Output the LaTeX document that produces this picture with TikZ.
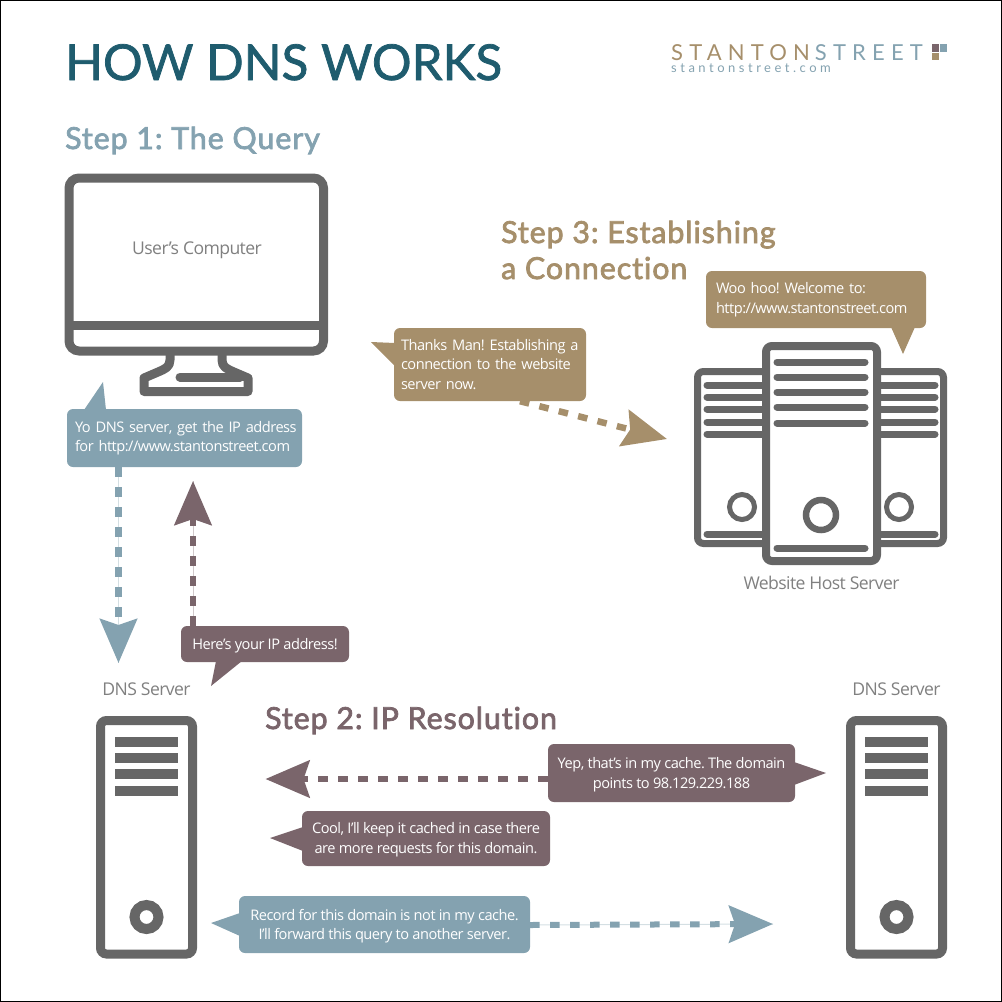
\documentclass[tikz,border=0pt]{standalone}
\usepackage{fontspec}
\setmainfont[LetterSpace=-3.4]{Open Sans}
\newfontfamily\headfont[Ligatures=NoCommon]{Lato}
\usetikzlibrary{arrows.meta}
\definecolor{teal}{HTML}{1F5C6E}
\definecolor{steel}{HTML}{84A2B0}
\definecolor{sand}{HTML}{A68F6B}
\definecolor{plum}{HTML}{7A656B}
\definecolor{ink}{HTML}{666666}
\definecolor{label}{HTML}{808080}
\tikzstyle{heading}=[anchor=base west, inner sep=0pt, font=\headfont\fontsize{30.3}{36}\selectfont\addfontfeature{FakeBold=2.5,LetterSpace=3.2}]
\tikzstyle{logotext}=[anchor=base west, inner sep=0pt]
\tikzstyle{bubble}=[rounded corners=6pt, inner sep=0pt, text=white, font=\fontsize{14.6}{19.5}\selectfont]
\tikzstyle{caption}=[inner sep=0pt, text=label, font=\fontsize{17.6}{19}\selectfont]
\tikzstyle{flow}=[line width=6.5pt, dash pattern=on 9.5pt off 10.5pt]
\tikzstyle{hair}=[line width=1pt, opacity=.35]
\tikzstyle{head}=[-{Stealth[length=44pt, width=37pt, inset=6pt]}]
\tikzstyle{case}=[draw=ink, fill=white, line width=9pt, rounded corners=6pt]
\tikzstyle{bar}=[draw=ink, line width=7pt, line cap=round]

\begin{document}
\frenchspacing
\begin{tikzpicture}[x=1pt, y=-1pt]
  \useasboundingbox (0,0) rectangle (1002,1002);
  \draw[black, line width=1pt] (.5,.5) rectangle (1001.5,1001.5);

  % titles
  \node[heading, teal, font=\headfont\fontsize{49.5}{56}\selectfont\addfontfeature{FakeBold=1.5}] (title) at (65,80) {HOW DNS WORKS};
  \node[heading, steel] (stepquery) at (65,149) {Step 1: The Query};
  \node[heading, sand] (stepconn) at (501,243) {Step 3: Establishing};
  \node[heading, sand] (stepconnb) at (501,279) {a Connection};
  \node[heading, plum] (stepip) at (265,729) {Step 2: IP Resolution};

  % logo
  \node[logotext, font=\headfont\fontsize{22}{24}\selectfont\addfontfeature{LetterSpace=28}] (logoname) at (671,60) {\textcolor{sand}{STANTON}\kern5pt\textcolor{steel}{STREET}};
  \node[logotext, steel, font=\headfont\fontsize{13}{15}\selectfont\addfontfeature{LetterSpace=27}] (logourl) at (671,72) {stantonstreet.com};
  \fill[plum] (932,44) rectangle (938.5,52);
  \fill[steel] (940,44) rectangle (947,52);
  \fill[sand] (932,53) rectangle (938.5,60);

  % computer
  \draw[case, rounded corners=10pt] (69,178) rectangle (323.5,351);
  \draw[ink, line width=9pt] (69,325) -- (323.5,325);
  \draw[ink, line width=9pt, line join=round] (170,352) -- (170,360) .. controls (170,367) and (165,369) .. (158,372) -- (144,378) -- (144,391.5) -- (248,391.5) -- (248,378) -- (234,372) .. controls (227,369) and (222,367) .. (222,360) -- (222,352);
  \draw[ink, line width=9pt, line cap=round] (180,377) -- (240,377);
  \node[caption] (usercomp) at (197,250) {User’s Computer};

  % host servers
  \draw[case, line width=7pt] (697.5,371.5) rectangle (943.5,543.5);
  \foreach \y in {385,397,409,422,434,534}
    \draw[bar] (707,\y) -- (935,\y);
  \foreach \x in {742,899}
    \draw[ink, line width=5pt] (\x,507) circle (12.5);
  \draw[case, line width=8pt] (766,346) rectangle (877,561);
  \foreach \y in {362,377,392,407,423,548}
    \draw[bar] (777,\y) -- (865,\y);
  \draw[ink, line width=6.5pt] (821,515) circle (15);
  \node[caption] (hostlabel) at (821.5,582.5) {Website Host Server};

  % dns servers
  \foreach \x/\n in {100.5/left, 850.5/right} {
    \draw[case] (\x,720.5) rectangle (\x+92,954);
    \foreach \y in {742,758,774,791}
      \fill[ink] (\x+14.5,\y-5) rectangle (\x+77,\y+5);
    \draw[ink, line width=10pt] (\x+46,917) circle (12);
    \node[caption] (dns\n) at (\x+46,689.5) {DNS Server};
  }

  % speech bubbles
  \fill[steel] (84,410) -- (103,382) -- (106,410) -- cycle;
  \node[bubble, fill=steel, minimum width=235pt, minimum height=58pt, text width=219pt, align=left] (askdns) at (184.5,438) {\mbox{Yo DNS server, get the IP address}\\\mbox{for http://www.stantonstreet.com}};

  \fill[plum] (216,661) -- (211,686) -- (242,661) -- cycle;
  \node[bubble, fill=plum, minimum width=168pt, minimum height=36pt, align=center, text depth=0pt] (ipreply) at (265,644) {Here’s your IP address!};

  \fill[sand] (395,343) -- (371,342) -- (395,366) -- cycle;
  \node[bubble, fill=sand, minimum width=192pt, minimum height=73pt, text width=178pt, align=left] (thanks) at (490,364.5) {\mbox{Thanks Man! Establishing a}\\connection to the website\\server now.};

  \fill[sand] (891,327) -- (903,354) -- (915,327) -- cycle;
  \node[bubble, fill=sand, minimum width=220pt, minimum height=57pt, text width=200pt, align=left] (welcome) at (816,299.5) {Woo hoo! Welcome to:\\\mbox{http://www.stantonstreet.com}};

  \fill[plum] (794,762) -- (826,773) -- (794,785) -- cycle;
  \node[bubble, fill=plum, minimum width=247pt, minimum height=58pt, align=center, text depth=0pt] (yep) at (671.5,773) {Yep, that’s in my cache. The domain\\points to 98.129.229.188};

  \fill[plum] (303,827) -- (270,838) -- (303,851) -- cycle;
  \node[bubble, fill=plum, minimum width=248pt, minimum height=55pt, align=center, text depth=1.5pt] (cool) at (426,838.5) {Cool, I’ll keep it cached in case there\\are more requests for this domain.};

  \fill[steel] (240,913) -- (211,923) -- (240,936) -- cycle;
  \node[bubble, fill=steel, minimum width=291pt, minimum height=57pt, align=center, text depth=0pt] (record) at (384.5,924.5) {Record for this domain is not in my cache.\\I’ll forward this query to another server.};

  % connectors
  \coordinate (querytip) at (118.5,663);
  \coordinate (replytip) at (193,481);
  \coordinate (hosttip) at (667,439);
  \coordinate (cachetip) at (265.5,779);
  \coordinate (forwardtip) at (773,924);

  \draw[hair, steel] ([xshift=-66pt]askdns.south) -- (querytip);
  \draw[flow, head, steel] ([xshift=-66pt]askdns.south) -- (querytip);
  \draw[hair, plum] ([xshift=-72pt]ipreply.north) -- (replytip);
  \draw[flow, head, plum] ([xshift=-72pt]ipreply.north) -- (replytip);
  \draw[flow, head, sand] ([xshift=30pt]thanks.south) -- (hosttip);
  \draw[flow, head, plum] ([yshift=-6pt]yep.west) -- (cachetip);
  \draw[hair, steel] ([yshift=-.5pt]record.east) -- (forwardtip);
  \draw[flow, head, steel, line width=6pt] ([yshift=-.5pt]record.east) -- (forwardtip);
\end{tikzpicture}
\end{document}
